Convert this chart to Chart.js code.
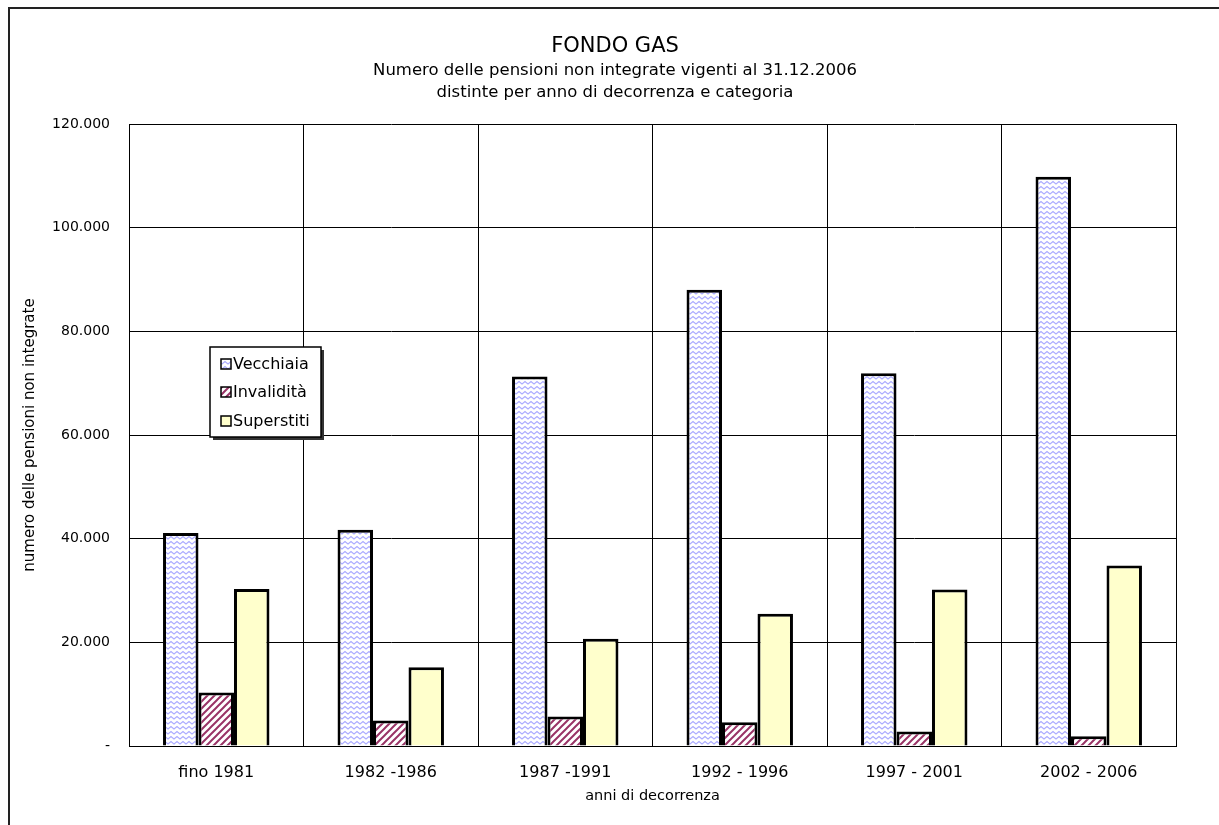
<!DOCTYPE html>
<html>
<head>
<meta charset="utf-8">
<script src="https://cdn.jsdelivr.net/npm/chart.js@4.4.0/dist/chart.umd.min.js"></script>
<style>
  html, body { margin: 0; padding: 0; background: #fff; }
  #wrap { position: relative; width: 1219px; height: 825px; overflow: hidden; }
  #frame { position: absolute; left: 8px; top: 7px; width: 1400px; height: 1000px;
           border-left: 2px solid #222; border-top: 2px solid #222; }
  #chart { position: absolute; left: 0; top: 0; }
</style>
</head>
<body>
<div id="wrap">
  <div id="frame"></div>
  <canvas id="chart" width="1219" height="825"></canvas>
</div>
<script>
// dati
const categories = ['fino 1981', '1982 -1986', '1987 -1991', '1992 - 1996', '1997 - 2001', '2002 - 2006'];
const vecchiaia  = [41100, 41700, 71300, 88000, 71900, 109800];
const invalidita = [10300, 4900, 5700, 4600, 2800, 1900];
const superstiti = [30300, 15200, 20700, 25500, 30200, 34800];
const yTickLabels = ['-', '20.000', '40.000', '60.000', '80.000', '100.000', '120.000'];
const seriesNames = ['Vecchiaia', 'Invalidità', 'Superstiti'];

const FONT = "'DejaVu Sans', Verdana, sans-serif";

// motivo a zig-zag azzurro (Vecchiaia)
function wavePattern() {
  const c = document.createElement('canvas');
  c.width = 6; c.height = 5;
  const g = c.getContext('2d');
  g.fillStyle = '#fff';
  g.fillRect(0, 0, 6, 5);
  g.strokeStyle = 'rgba(125,125,255,0.65)';
  g.lineWidth = 1.2;
  g.beginPath();
  g.moveTo(-3, 1.5); g.lineTo(0, 4); g.lineTo(3, 1.5); g.lineTo(6, 4); g.lineTo(9, 1.5);
  g.stroke();
  return g.createPattern(c, 'repeat');
}

// motivo a righe diagonali (Invalidità)
function stripePattern() {
  const c = document.createElement('canvas');
  c.width = 7; c.height = 7;
  const g = c.getContext('2d');
  g.fillStyle = '#fff';
  g.fillRect(0, 0, 7, 7);
  g.strokeStyle = '#993366';
  g.lineWidth = 2;
  g.beginPath();
  g.moveTo(-1, 8); g.lineTo(8, -1);
  g.moveTo(-4, 4); g.lineTo(4, -4);
  g.moveTo(3, 11); g.lineTo(11, 3);
  g.stroke();
  return g.createPattern(c, 'repeat');
}

const fills = [wavePattern(), stripePattern(), '#FFFFCC'];

// titoli
const titlePlugin = {
  id: 'titoli',
  afterDraw(chart) {
    const ctx = chart.ctx;
    ctx.save();
    ctx.fillStyle = '#000';
    ctx.textAlign = 'center';
    ctx.textBaseline = 'middle';
    ctx.font = '21px ' + FONT;
    ctx.fillText('FONDO GAS', 615, 47);
    ctx.font = '16.5px ' + FONT;
    ctx.fillText('Numero delle pensioni non integrate vigenti al 31.12.2006', 615, 71);
    ctx.fillText('distinte per anno di decorrenza e categoria', 615, 93);
    ctx.restore();
  }
};

// legenda dentro l'area del grafico
const legendBox = {
  id: 'legendaBox',
  afterDraw(chart) {
    const ctx = chart.ctx;
    const x = 210, y = 347, w = 111, h = 90;
    ctx.save();
    ctx.fillStyle = '#333';
    ctx.fillRect(x + 3, y + 3, w, h);
    ctx.fillStyle = '#fff';
    ctx.fillRect(x, y, w, h);
    ctx.strokeStyle = '#000';
    ctx.lineWidth = 1.5;
    ctx.strokeRect(x, y, w, h);
    const rows = [364, 392, 421];
    ctx.font = '16px ' + FONT;
    ctx.textBaseline = 'middle';
    seriesNames.forEach((name, i) => {
      ctx.fillStyle = fills[i];
      ctx.fillRect(221, rows[i] - 5, 10, 10);
      ctx.lineWidth = 1.5;
      ctx.strokeRect(221, rows[i] - 5, 10, 10);
      ctx.fillStyle = '#000';
      ctx.fillText(name, 233, rows[i] + 1);
    });
    ctx.restore();
  }
};

const ds = (label, data, i) => ({
  label: label,
  data: data,
  backgroundColor: fills[i],
  borderColor: '#000',
  borderWidth: 3,
  categoryPercentage: 0.61,
  barPercentage: 1.0
});

new Chart(document.getElementById('chart').getContext('2d'), {
  type: 'bar',
  data: {
    labels: categories,
    datasets: [
      ds(seriesNames[0], vecchiaia, 0),
      ds(seriesNames[1], invalidita, 1),
      ds(seriesNames[2], superstiti, 2)
    ]
  },
  options: {
    responsive: false,
    animation: false,
    layout: { padding: { top: 124, right: 43, left: 0, bottom: 0 } },
    plugins: {
      legend: { display: false },
      tooltip: { enabled: false }
    },
    scales: {
      x: {
        grid: { color: '#000', lineWidth: 1, drawTicks: false, offset: true },
        border: { color: '#000', width: 1 },
        ticks: { color: '#000', font: { family: FONT, size: 16 }, padding: 17 },
        title: {
          display: true, text: 'anni di decorrenza', color: '#000',
          font: { family: FONT, size: 14.5 }, padding: { top: 0, bottom: 20 }
        },
        afterFit: s => { s.height = 79; }
      },
      y: {
        min: 0, max: 120000,
        grid: { color: '#000', lineWidth: 1, drawTicks: false },
        border: { color: '#000', width: 1 },
        ticks: {
          stepSize: 20000, color: '#000', padding: 19,
          font: { family: FONT, size: 14 },
          callback: (v, i) => yTickLabels[i]
        },
        title: {
          display: true, text: 'numero delle pensioni non integrate', color: '#000',
          font: { family: FONT, size: 15 }, padding: { top: 21, bottom: 0 }
        },
        afterFit: s => { s.width = 129; }
      }
    }
  },
  plugins: [titlePlugin, legendBox]
});
</script>
</body>
</html>
